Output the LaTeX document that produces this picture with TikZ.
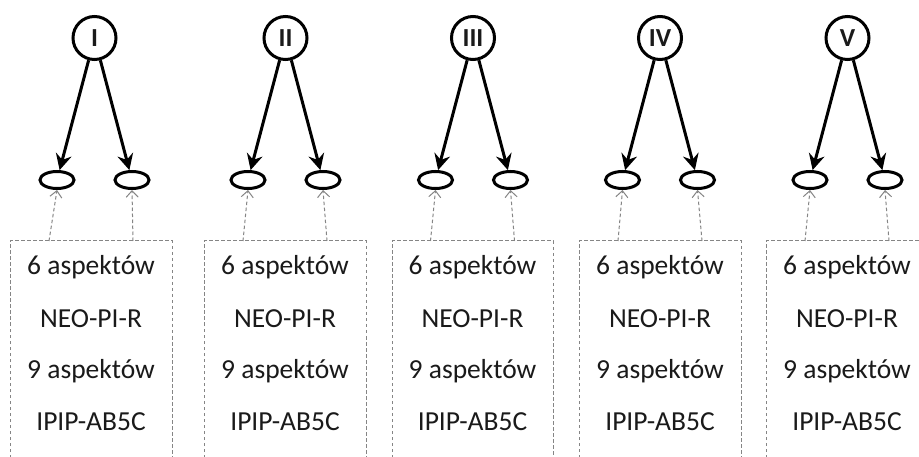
\documentclass[tikz,border=0pt]{standalone}
\usepackage{fontspec}
\setmainfont{Carlito}
\usetikzlibrary{arrows.meta,shapes.geometric}
\definecolor{dgray}{HTML}{858585}
\definecolor{txt}{HTML}{1A1A1A}
\tikzset{
  factor/.style={circle,draw,line width=3pt,minimum size=43pt,inner sep=0pt,font=\fontsize{26}{26}\selectfont\bfseries,text=txt},
  facet/.style={ellipse,draw,line width=3pt,minimum width=34pt,minimum height=17pt,inner sep=0pt},
  load/.style={line width=3pt,-{Stealth[length=16pt,width=16pt,inset=5.5pt]}},
  srcbox/.style={draw=dgray,line width=1pt,dash pattern=on 3.5pt off 2.5pt},
  srcarrow/.style={draw=dgray,line width=1pt,dash pattern=on 3.5pt off 2.5pt,-{Straight Barb[length=6.5pt,width=12pt,line width=1pt]}},
  lbl/.style={anchor=base,font=\fontsize{27.5}{27.5}\selectfont,text=txt,inner sep=0pt}
}
\begin{document}
\begin{tikzpicture}[x=1pt,y=-1pt]
\clip (0,0) rectangle (919,457);
\fill[white] (0,0) rectangle (919,457);
\foreach \n/\lab/\cx/\bl/\br in {1/I/94.5/10/172, 2/II/285.5/204/366, 3/III/473/392/553, 4/IV/660/579/741, 5/V/847.5/766/928}{
  \pgfmathsetmacro{\bc}{(\bl+\br)/2}
  \node[factor] (c\n) at (\cx,38) {\lab};
  \node[facet] (a\n) at (\cx-37.5,180) {};
  \node[facet] (b\n) at (\cx+37.5,180) {};
  \draw[load] (c\n) -- (a\n);
  \draw[load] (c\n) -- (b\n);
  \draw[srcbox] (\bl,470) -- (\bl,241) -- (\br,241) -- (\br,470);
  \coordinate (pa\n) at (\bc-42,241);
  \coordinate (pb\n) at (\bc+42,241);
  \draw[srcarrow] (pa\n) -- (a\n.south);
  \draw[srcarrow] (pb\n) -- (b\n.south);
  \node[lbl] (t1\n) at (\bc,275) {6 aspektów};
  \node[lbl] (t2\n) at (\bc,327) {NEO-PI-R};
  \node[lbl] (t3\n) at (\bc,378) {9 aspektów};
  \node[lbl] (t4\n) at (\bc,430) {IPIP-AB5C};
}
\end{tikzpicture}
\end{document}
